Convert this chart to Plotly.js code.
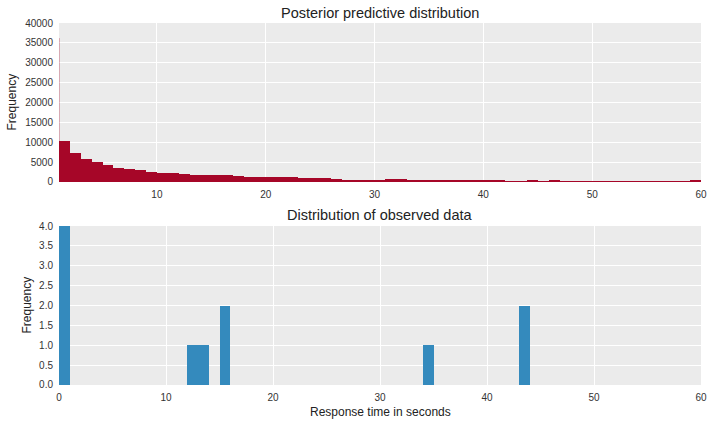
<!DOCTYPE html>
<html>
<head>
<meta charset="utf-8">
<script src="https://cdn.plot.ly/plotly-3.0.1.min.js"></script>
<style>html,body{margin:0;padding:0;background:#fff;}#chart{width:714px;height:427px;}</style>
</head>
<body>
<div id="chart"></div>
<script>
// Posterior predictive histogram: bins of width 1, starting at 0
const predBinStart = 0;
const predCounts = [36200,
  10300, 7300, 5900, 5100, 4200, 3500, 3200, 2950, 2450, 2300,
  2200, 2100, 1750, 1700, 1650, 1650, 1600, 1250, 1250, 1150,
  1150, 1150, 900, 900, 900, 750, 600, 600, 600, 600,
  650, 650, 500, 420, 420, 420, 380, 380, 380, 420,
  420, 330, 330, 420, 330, 380, 330, 300, 280, 270,
  260, 250, 250, 240, 230, 230, 220, 220, 600];

// Observed data histogram (bins of width 1 starting at 0)
const obsBinStarts = [0, 12, 13, 15, 34, 43];
const obsCounts = [4, 1, 1, 2, 1, 2];

const predX = predCounts.map((_, i) => predBinStart + i + 0.5);
const obsX = obsBinStarts.map(s => s + 0.5);

const red = '#A60628';
const blue = '#348ABD';
const bg = '#EBEBEB';
const tickFont = {family: 'Liberation Sans, Arial, sans-serif', size: 10, color: '#333'};

const traces = [
  {type: 'bar', x: predX, y: predCounts, width: 1, xaxis: 'x', yaxis: 'y',
   marker: {color: red, line: {width: 0}}, hoverinfo: 'skip'},
  {type: 'scatter', mode: 'lines', x: [predBinStart + 1.04, predBinStart + 1.04], y: [0, predCounts[0]],
   xaxis: 'x', yaxis: 'y', line: {color: 'rgba(166,6,40,0.3)', width: 1}, hoverinfo: 'skip'},
  {type: 'bar', x: obsX, y: obsCounts, width: 1, xaxis: 'x2', yaxis: 'y2',
   marker: {color: blue, line: {width: 0}}, hoverinfo: 'skip'}
];

const axBase = {
  showgrid: true, gridcolor: '#FFFFFF', gridwidth: 1, zeroline: false, showline: false,
  ticks: '', tickfont: tickFont, fixedrange: true
};

const layout = {
  width: 714, height: 427,
  margin: {l: 59, r: 13, t: 23, b: 42},
  paper_bgcolor: '#FFFFFF', plot_bgcolor: bg,
  showlegend: false, bargap: 0,
  font: {family: 'Liberation Sans, Arial, sans-serif', color: '#222'},
  xaxis: Object.assign({}, axBase, {domain: [0, 1], range: [1, 60], dtick: 10, tick0: 0, anchor: 'y', ticklabelstandoff: 5}),
  yaxis: Object.assign({}, axBase, {domain: [0.5608, 1], range: [0, 40000], dtick: 5000, anchor: 'x', tickformat: 'd', ticklabelstandoff: 5}),
  xaxis2: Object.assign({}, axBase, {domain: [0, 1], range: [0, 60], dtick: 10, tick0: 0, anchor: 'y2', ticklabelstandoff: 5}),
  yaxis2: Object.assign({}, axBase, {domain: [0, 0.4392], range: [0, 4], dtick: 0.5, anchor: 'x2', tickformat: '.1f', ticklabelstandoff: 5}),
  annotations: [
    {text: 'Posterior predictive distribution', xref: 'paper', yref: 'paper', x: 0.5, y: 1, yshift: 10,
     xanchor: 'center', yanchor: 'middle', showarrow: false, font: {size: 14.5, color: '#222'}},
    {text: 'Distribution of observed data', xref: 'paper', yref: 'paper', x: 0.5, y: 0.4392, yshift: 11,
     xanchor: 'center', yanchor: 'middle', showarrow: false, font: {size: 14.5, color: '#222'}},
    {text: 'Frequency', xref: 'paper', yref: 'paper', x: 0, xshift: -47, y: 0.7804, textangle: -90,
     xanchor: 'center', yanchor: 'middle', showarrow: false, font: {size: 12, color: '#222'}},
    {text: 'Frequency', xref: 'paper', yref: 'paper', x: 0, xshift: -32, y: 0.2196, textangle: -90,
     xanchor: 'center', yanchor: 'middle', showarrow: false, font: {size: 12, color: '#222'}},
    {text: 'Response time in seconds', xref: 'paper', yref: 'paper', x: 0.5, y: 0, yshift: -27,
     xanchor: 'center', yanchor: 'middle', showarrow: false, font: {size: 12, color: '#222'}}
  ]
};

Plotly.newPlot('chart', traces, layout, {displayModeBar: false, staticPlot: true});
</script>
</body>
</html>
